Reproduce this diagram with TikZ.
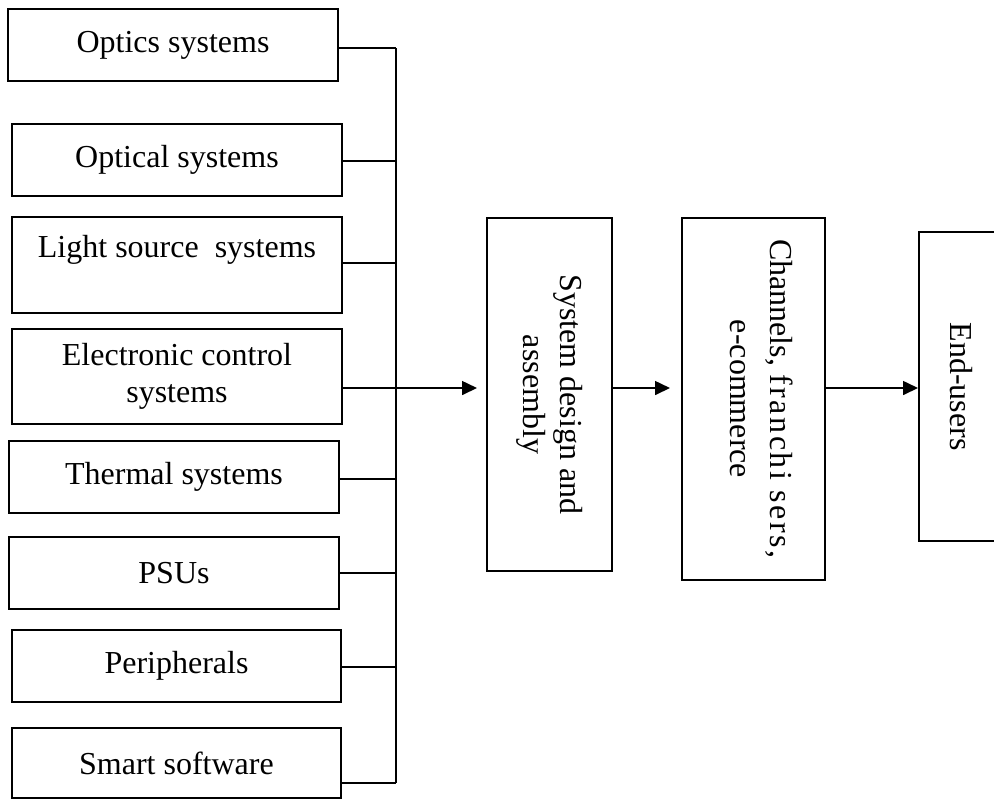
\documentclass[tikz,border=0pt]{standalone}
\usepackage{fontspec}
\setmainfont{Liberation Serif}
\usetikzlibrary{arrows.meta}
\begin{document}
\begin{tikzpicture}[x=0.5pt,y=-0.5pt,
  box/.style={draw,line width=1pt,inner sep=0pt,align=center,font=\fontsize{16}{18.5}\selectfont},
  conn/.style={line width=0.8pt},
  arr/.style={line width=0.8pt,-{Triangle[length=7.5pt,width=7pt]}}]
\useasboundingbox (0,0) rectangle (994,800);
\clip (0,0) rectangle (994,800);
\node[box,minimum width=165pt,minimum height=36pt] (op) at (173,45) {Optics systems};
\node[box,minimum width=165pt,minimum height=36pt] (ol) at (177,160) {Optical systems};
\node[box,minimum width=165pt,minimum height=48pt] (ls) at (177,265) {Light source\ \ systems\\ \mbox{}};
\node[box,minimum width=165pt,minimum height=47.5pt] (ec) at (177,376.5) {Electronic control\\systems};
\node[box,minimum width=165pt,minimum height=36pt] (th) at (174,477) {Thermal systems};
\node[box,minimum width=165pt,minimum height=36pt] (ps) at (174,573) {PSUs};
\node[box,minimum width=164.5pt,minimum height=36pt] (pe) at (176.5,666) {Peripherals};
\node[box,minimum width=164.5pt,minimum height=35pt] (sm) at (176.5,763) {Smart software};
\node[box,rotate=-90,minimum width=176.5pt,minimum height=62.5pt] (sd) at (549.5,394.5) {System design and\\assembly};
\node[box,rotate=-90,minimum width=181pt,minimum height=71.5pt,text depth=8pt,font=\fontsize{16}{20}\selectfont] (ch) at (753.5,399) {Channels, {\addfontfeature{LetterSpace=8}franchi sers,}\\e-commerce};
\node[box,rotate=-90,minimum width=154.5pt,minimum height=42pt] (eu) at (961,386.5) {End-users};
\coordinate (b1) at (396,48);
\coordinate (b2) at (396,161);
\coordinate (b3) at (396,263);
\coordinate (b4) at (396,388);
\coordinate (b5) at (396,479);
\coordinate (b6) at (396,573);
\coordinate (b7) at (396,667);
\coordinate (b8) at (396,783);
\draw[conn] (b1) -- (b8);
\foreach \n/\b in {op/b1, ol/b2, ls/b3, th/b5, ps/b6, pe/b7, sm/b8}
  \draw[conn] (\n.east |- \b) -- (\b);
\draw[arr,shorten >=4.5pt] (ec.east |- b4) -- (sd.south |- b4);
\draw[arr,shorten >=5.5pt] (sd.north |- b4) -- (ch.south |- b4);
\draw[arr] (ch.north |- b4) -- (eu.south |- b4);
\end{tikzpicture}
\end{document}
